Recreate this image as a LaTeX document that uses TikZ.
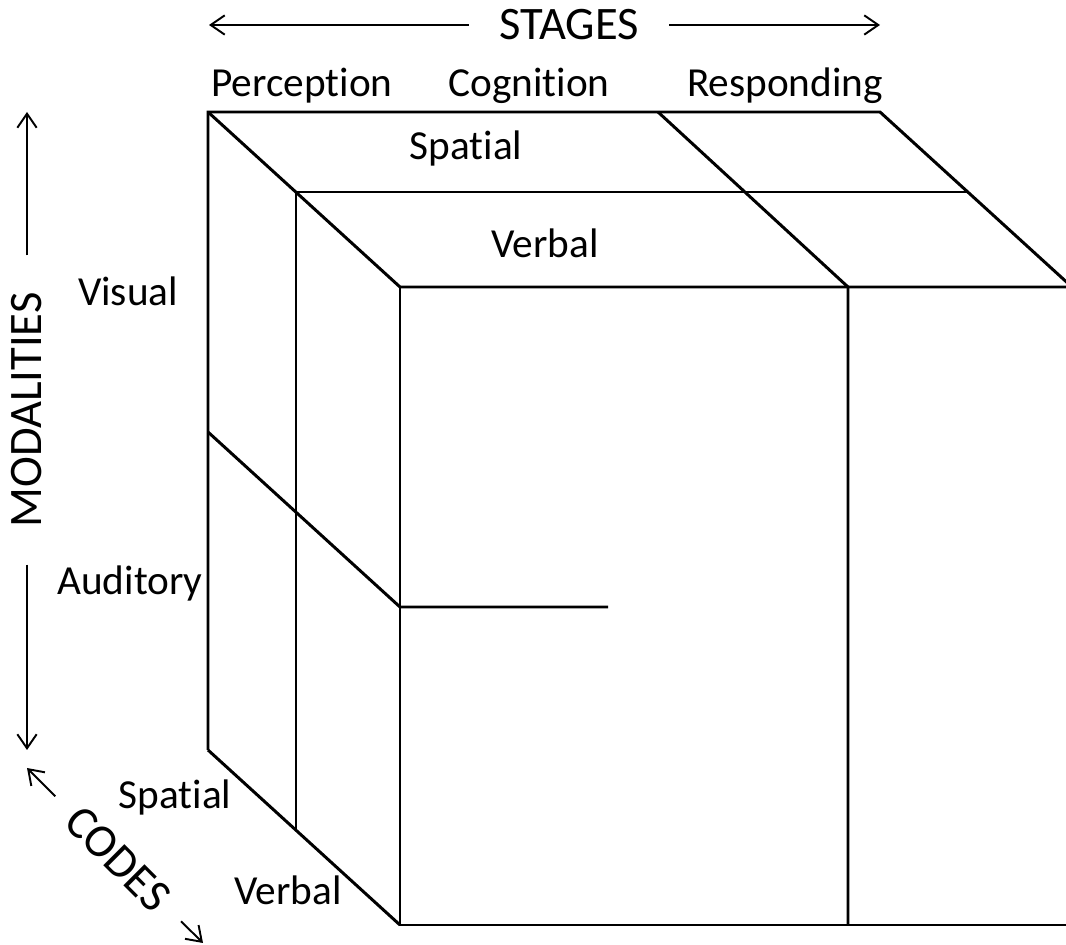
\documentclass[tikz,border=0pt]{standalone}
\usepackage{fontspec}
\setmainfont{Carlito}[Ligatures=NoCommon]
\usetikzlibrary{arrows.meta, positioning}

\begin{document}
\begin{tikzpicture}[
  x=0.02cm, y=-0.02cm,
  edge/.style={line width=1.7pt},
  axis/.style={-{Straight Barb[length=8pt, width=11pt]}, line width=1.1pt},
  lbl/.style={font=\fontsize{23.5}{28}\selectfont, inner sep=0pt, anchor=base},
  head/.style={font=\fontsize{26.5}{31}\selectfont, inner ysep=0pt}
]
\useasboundingbox (0,0) rectangle (1066,945);

% corners of the block
\coordinate (backTL) at (208,112);
\coordinate (backTD) at (658,112);
\coordinate (backTR) at (880,112);
\coordinate (backBL) at (208,750);
\coordinate (midTL)  at (296,192);
\coordinate (midTR)  at (968,192);
\coordinate (midBL)  at (296,830);
\coordinate (frTL)   at (400,287);
\coordinate (frTD)   at (848,287);
\coordinate (frTR)   at (1072,287);
\coordinate (frBL)   at (400,925);
\coordinate (frBD)   at (848,925);
\coordinate (frBR)   at (1072,925);
\coordinate (cutL)   at (208,432);
\coordinate (cutM)   at (400,607);
\coordinate (cutR)   at (608,607);

\draw[edge] (backBL) -- (backTL) -- (backTR) -- (frTR);
\draw[edge] (backTL) -- (frTL) -- (frTR);
\draw[edge] (midBL) -- (midTL) -- (midTR);
\draw[edge] (frTL) -- (frBL) -- (frBR);
\draw[edge] (backBL) -- (frBL);
\draw[edge] (backTD) -- (frTD) -- (frBD);
\draw[edge] (cutL) -- (cutM) -- (cutR);

% axis titles
\node[head, inner xsep=17pt] (stages) at (569,25) {STAGES};
\coordinate (stL) at (209,25);
\coordinate (stR) at (880,25);
\draw[axis] (stages) -- (stL);
\draw[axis] (stages) -- (stR);

\node[head, rotate=90, inner xsep=21pt] (modal) at (27,410) {MODALITIES};
\coordinate (moUp) at (27,112);
\coordinate (moDn) at (27,750);
\draw[axis] (modal) -- (moUp);
\draw[axis] (modal) -- (moDn);

\node[head, rotate=-45, inner xsep=14pt] (codes) at (118,859) {CODES};
\coordinate (coUp) at (27,768);
\coordinate (coDn) at (203,943);
\draw[axis] (codes) -- (coUp);
\draw[axis] (codes) -- (coDn);

% labels
\node[lbl] (perc)  at (302,97)  {Perception};
\node[lbl] (cogn)  at (529,97)  {Cognition};
\node[lbl] (resp)  at (785,97)  {Responding};
\node[lbl] (topSp) at (466,160) {Spatial};
\node[lbl] (topVb) at (545,258) {Verbal};
\node[lbl] (vis)   at (128,306) {Visual};
\node[lbl] (aud)   at (130,595) {Auditory};
\node[lbl] (botSp) at (175,809) {Spatial};
\node[lbl] (botVb) at (288,905) {Verbal};
\end{tikzpicture}
\end{document}
